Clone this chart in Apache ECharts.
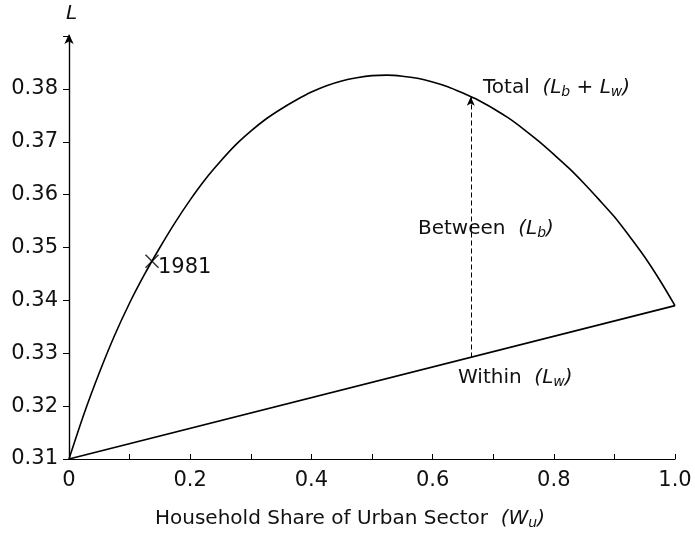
<!DOCTYPE html>
<html>
<head>
<meta charset="utf-8">
<script src="https://cdn.jsdelivr.net/npm/echarts@6/dist/echarts.min.js"></script>
<style>html,body{margin:0;padding:0;background:#fff}#c{width:695px;height:539px}</style>
</head>
<body>
<div id="c"></div>
<script>
// Household share of urban sector (x)
var shareX = [0, 0.025, 0.05, 0.075, 0.10, 0.125, 0.15, 0.175, 0.20, 0.225, 0.25, 0.275, 0.30, 0.325, 0.35, 0.375, 0.40, 0.425, 0.45, 0.475, 0.50,
              0.525, 0.55, 0.575, 0.60, 0.625, 0.65, 0.675, 0.70, 0.725, 0.75, 0.775, 0.80, 0.825, 0.85, 0.875, 0.90, 0.925, 0.95, 0.975, 1.00];
// Total inequality L = Lb + Lw
var totalL = [0.3100, 0.3186, 0.3263, 0.3333, 0.3395, 0.3450, 0.3500, 0.3547, 0.3590, 0.3629, 0.3663, 0.3694, 0.3720, 0.3743, 0.3762, 0.3779, 0.3794, 0.3806, 0.3815, 0.3821, 0.3825,
              0.3826, 0.3824, 0.3820, 0.3813, 0.3804, 0.3792, 0.3779, 0.3763, 0.3745, 0.3724, 0.3701, 0.3676, 0.3650, 0.3621, 0.3590, 0.3558, 0.3521, 0.3482, 0.3438, 0.3390];
// Within-group inequality Lw (straight line)
var withinX = [0, 1.0];
var withinL = [0.3100, 0.3390];
// 1981 observation
var obs1981 = [0.137, 0.3474];
// Between component arrow
var arrowX = 0.663;
var arrowFrom = 0.3292;
var arrowTo = 0.3785;
var yTicks = [0.31, 0.32, 0.33, 0.34, 0.35, 0.36, 0.37, 0.38];
var xTicks = [0, 0.2, 0.4, 0.6, 0.8, 1.0];

var FONT = 'DejaVu Sans';
var chart = echarts.init(document.getElementById('c'));
function pairs(xs, ys){ return xs.map(function(x,i){return [x, ys[i]];}); }
function richStyle(size){
  return { i: { fontFamily: FONT, fontStyle: 'italic', fontSize: size, fill: '#111' },
           s: { fontFamily: FONT, fontStyle: 'italic', fontSize: Math.round(size*0.72), padding: [9,0,0,0], fill: '#111' },
           n: { fontFamily: FONT, fontSize: size, fill: '#111' } };
}
chart.setOption({
  animation: false,
  backgroundColor: '#fff',
  grid: { left: 69, right: 20, top: 36, bottom: 80 },
  xAxis: {
    type: 'value', min: 0, max: 1, interval: 0.1,
    axisLine: { show: true, lineStyle: { color: '#000', width: 1.2 } },
    axisTick: { show: true, inside: true, length: 5, lineStyle: { color: '#000' } },
    axisLabel: { fontFamily: FONT, fontSize: 21, color: '#111', margin: 11,
      formatter: function(v){ var r = Math.round(v*10)/10; if (xTicks.some(function(t){return Math.abs(t-r)<1e-9;})) return r===0?'0':r.toFixed(1); return ''; } },
    splitLine: { show: false }
  },
  yAxis: [{
    type: 'value', min: 0.31, max: 0.39, interval: 0.01,
    axisLine: { show: true, onZero: false, symbol: ['none', 'arrow'], symbolSize: [7, 10], symbolOffset: [0, 2], lineStyle: { color: '#000', width: 1.2 } },
    axisTick: { show: true, length: 6, lineStyle: { color: '#000' } },
    axisLabel: { fontFamily: FONT, fontSize: 21, color: '#111', margin: 11,
      formatter: function(v){ return v > 0.385 ? '' : v.toFixed(2); } },
    splitLine: { show: false }
  }, {
    type: 'value', min: 0.31, max: 0.39, position: 'right',
    axisLine: { show: true, lineStyle: { color: '#000', width: 1.2 } },
    axisTick: { show: false }, axisLabel: { show: false }, splitLine: { show: false }
  }],
  graphic: [
    { type: 'text', left: 66, top: 4, style: { text: 'L', font: 'italic 20px ' + FONT, fill: '#111' } },
    { type: 'text', left: 483, top: 78, style: { text: '{n|Total  }{i|(L}{s|b}{i| + L}{s|w}{i|)}', rich: richStyle(20) } },
    { type: 'text', left: 418, top: 219, style: { text: '{n|Between  }{i|(L}{s|b}{i|)}', rich: richStyle(20) } },
    { type: 'text', left: 458, top: 368, style: { text: '{n|Within  }{i|(L}{s|w}{i|)}', rich: richStyle(20) } },
    { type: 'text', left: 158, top: 257, style: { text: '1981', font: '21px ' + FONT, fill: '#111' } },
    { type: 'text', left: 155, top: 509, style: { text: '{n|Household Share of Urban Sector  }{i|(W}{s|u}{i|)}', rich: richStyle(20) } }
  ],
  series: [
    { type: 'line', data: pairs(shareX, totalL), smooth: 0.3, showSymbol: false,
      lineStyle: { color: '#000', width: 1.6 }, z: 3 },
    { type: 'line', data: pairs(withinX, withinL), showSymbol: false,
      lineStyle: { color: '#000', width: 1.7 }, z: 3,
      markLine: { silent: true, symbol: ['none', 'arrow'], symbolSize: [6, 9],
        lineStyle: { color: '#000', type: [5, 3], width: 1 }, label: { show: false },
        data: [[{ coord: [arrowX, arrowFrom] }, { coord: [arrowX, arrowTo] }]] } },
    { type: 'scatter', data: [obs1981], symbol: 'path://M0,0L10,10M10,0L0,10', symbolSize: 13,
      itemStyle: { color: 'none', borderColor: '#000', borderWidth: 1.5 }, z: 4 }
  ]
});
</script>
</body>
</html>
